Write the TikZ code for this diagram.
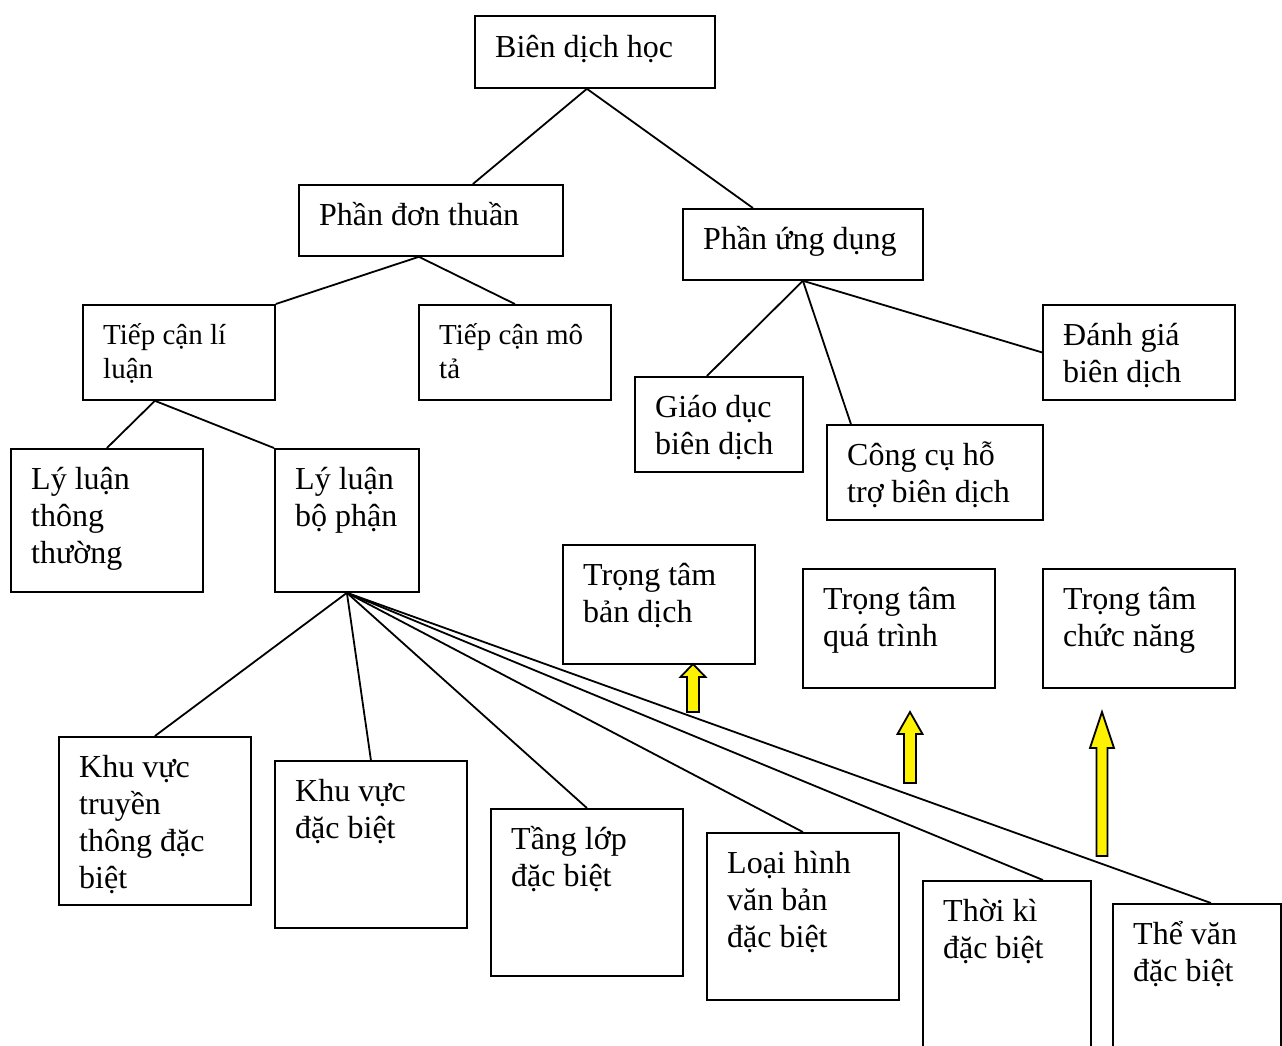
\documentclass[tikz,border=0pt]{standalone}
\usepackage{fontspec}
\setmainfont{Liberation Serif}
\usetikzlibrary{calc}
\tikzset{
  box/.style={draw=black, line width=1.8pt, inner sep=0pt, anchor=north west},
  txt/.style={inner sep=0pt, anchor=base west, font=\fontsize{32}{37}\selectfont},
  txts/.style={inner sep=0pt, anchor=base west, font=\fontsize{29}{34}\selectfont},
  conn/.style={line width=1.8pt, black},
  yarrow/.style={fill=yellow, draw=black, line width=1.8pt, line join=miter}
}
\newcommand{\mybox}[5]{%
  \node[box, minimum width=#4-#2, minimum height=#5-#3] (#1) at (#2,#3) {};
}
\newcommand{\ml}[1]{\begin{tabular}[t]{@{}l@{}}#1\end{tabular}}
\begin{document}
\begin{tikzpicture}[x=1pt, y=-1pt]
\useasboundingbox (0,0) rectangle (1282,1045);
\clip (0,0) rectangle (1282,1045);
% boxes
\mybox{bdh}{474}{15}{714}{87}
\mybox{pdt}{298}{184}{562}{255}
\mybox{pud}{682}{208}{922}{279}
\mybox{tcll}{82}{304}{274}{399}
\mybox{tcmt}{418}{304}{610}{399}
\mybox{gd}{634}{376}{802}{471}
\mybox{cc}{826}{424}{1042}{519}
\mybox{dg}{1042}{304}{1234}{399}
\mybox{llt}{10}{448}{202}{591}
\mybox{llbp}{274}{448}{418}{591}
\mybox{ttbd}{562}{544}{754}{663}
\mybox{ttqt}{802}{568}{994}{687}
\mybox{ttcn}{1042}{568}{1234}{687}
\mybox{kvtt}{58}{736}{250}{904}
\mybox{kvdb}{274}{760}{466}{927}
\mybox{tl}{490}{808}{682}{975}
\mybox{lh}{706}{832}{898}{999}
\mybox{tk}{922}{880}{1090}{1070}
\mybox{tv}{1112}{903}{1280}{1070}
% texts
\node[txt] (t-bdh) at ($(bdh.north west)+(21,42)$) {Biên dịch học};
\node[txt] (t-pdt) at ($(pdt.north west)+(21,41)$) {Phần đơn thuần};
\node[txt] (t-pud) at ($(pud.north west)+(21,41)$) {Phần ứng dụng};
\node[txts] (t-tcll) at ($(tcll.north west)+(21,40)$) {\ml{Tiếp cận lí\\luận}};
\node[txts] (t-tcmt) at ($(tcmt.north west)+(21,40)$) {\ml{Tiếp cận mô\\tả}};
\node[txt] (t-gd) at ($(gd.north west)+(21,41)$) {\ml{Giáo dục\\biên dịch}};
\node[txt] (t-cc) at ($(cc.north west)+(21,41)$) {\ml{Công cụ hỗ\\trợ biên dịch}};
\node[txt] (t-dg) at ($(dg.north west)+(21,41)$) {\ml{Đánh giá\\biên dịch}};
\node[txt] (t-llt) at ($(llt.north west)+(21,41)$) {\ml{Lý luận\\thông\\thường}};
\node[txt] (t-llbp) at ($(llbp.north west)+(21,41)$) {\ml{Lý luận\\bộ phận}};
\node[txt] (t-ttbd) at ($(ttbd.north west)+(21,41)$) {\ml{Trọng tâm\\bản dịch}};
\node[txt] (t-ttqt) at ($(ttqt.north west)+(21,41)$) {\ml{Trọng tâm\\quá trình}};
\node[txt] (t-ttcn) at ($(ttcn.north west)+(21,41)$) {\ml{Trọng tâm\\chức năng}};
\node[txt] (t-kvtt) at ($(kvtt.north west)+(21,41)$) {\ml{Khu vực\\truyền\\thông đặc\\biệt}};
\node[txt] (t-kvdb) at ($(kvdb.north west)+(21,41)$) {\ml{Khu vực\\đặc biệt}};
\node[txt] (t-tl) at ($(tl.north west)+(21,41)$) {\ml{Tầng lớp\\đặc biệt}};
\node[txt] (t-lh) at ($(lh.north west)+(21,41)$) {\ml{Loại hình\\văn bản\\đặc biệt}};
\node[txt] (t-tk) at ($(tk.north west)+(21,41)$) {\ml{Thời kì\\đặc biệt}};
\node[txt] (t-tv) at ($(tv.north west)+(21,41)$) {\ml{Thể văn\\đặc biệt}};
% connectors
\draw[conn] ([xshift=-8pt]bdh.south) -- ([xshift=42pt]pdt.north);
\draw[conn] ([xshift=-8pt]bdh.south) -- ([xshift=-50pt]pud.north);
\draw[conn] ([xshift=-12pt]pdt.south) -- (tcll.north east);
\draw[conn] ([xshift=-12pt]pdt.south) -- (tcmt.north);
\draw[conn] ([xshift=-24pt]tcll.south) -- (llt.north);
\draw[conn] ([xshift=-24pt]tcll.south) -- (llbp.north west);
\draw[conn] (pud.south) -- ([xshift=-12pt]gd.north);
\draw[conn] (pud.south) -- ([xshift=-84pt]cc.north);
\draw[conn] (pud.south) -- (dg.west);
\draw[conn] (llbp.south) -- (kvtt.north);
\draw[conn] (llbp.south) -- (kvdb.north);
\draw[conn] (llbp.south) -- (tl.north);
\draw[conn] (llbp.south) -- (lh.north);
\draw[conn] (llbp.south) -- ([xshift=36pt]tk.north);
\draw[conn] (llbp.south) -- ([xshift=14pt]tv.north);
% yellow arrows
\draw[yarrow] (693,664) -- (705.5,677) -- (699,677) -- (699,712) -- (687,712) -- (687,677) -- (680.5,677) -- cycle;
\draw[yarrow] (910,712) -- (922.5,734) -- (916,734) -- (916,783) -- (904,783) -- (904,734) -- (897.5,734) -- cycle;
\draw[yarrow] (1102,712) -- (1114,748) -- (1107.5,748) -- (1107.5,856) -- (1096.5,856) -- (1096.5,748) -- (1090,748) -- cycle;
\end{tikzpicture}
\end{document}
